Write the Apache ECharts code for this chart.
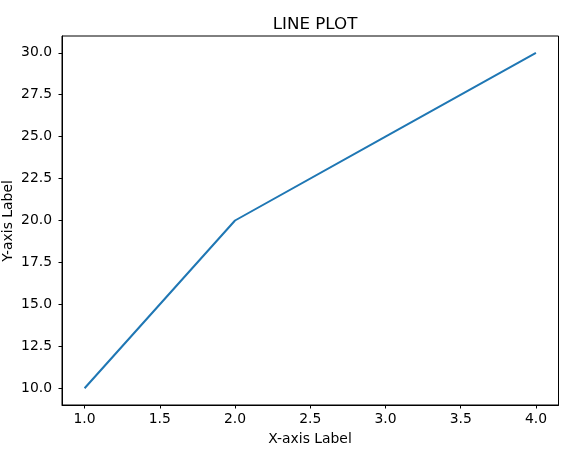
<!DOCTYPE html>
<html><head><meta charset="utf-8">
<script src="https://cdn.jsdelivr.net/npm/echarts@6/dist/echarts.min.js"></script>
<style>html,body{margin:0;padding:0;background:#fff}#c{width:569px;height:453px}</style>
</head><body><div id="c"></div>
<script>
var xValues = [1, 2, 3, 4];
var yValues = [10, 20, 25, 30];
var xTicks = [1.0, 1.5, 2.0, 2.5, 3.0, 3.5, 4.0];
var yTicks = [10.0, 12.5, 15.0, 17.5, 20.0, 22.5, 25.0, 27.5, 30.0];
var titleText = 'LINE PLOT';
var xLabel = 'X-axis Label';
var yLabel = 'Y-axis Label';

var font = 'DejaVu Sans';
var chart = echarts.init(document.getElementById('c'), null, {renderer: 'canvas'});
chart.setOption({
  animation: false,
  backgroundColor: '#fff',
  title: {text: titleText, left: 310, top: 11, textAlign: 'center',
    textStyle: {fontFamily: font, fontSize: 16.7, fontWeight: 'normal', color: '#000'}},
  grid: {left: 62, top: 36, right: 10.5, bottom: 48, show: true, borderColor: '#000', borderWidth: 1, containLabel: false},
  xAxis: {
    type: 'value', min: 0.85, max: 4.15,
    axisLine: {show: true, lineStyle: {color: '#000', width: 1}},
    axisTick: {show: true, inside: false, length: 3.5, lineStyle: {color: '#000'}, customValues: xTicks},
    axisLabel: {customValues: xTicks, margin: 7, color: '#000', fontFamily: font, fontSize: 13.9,
      formatter: function (v) { return v.toFixed(1); }},
    splitLine: {show: false}
  },
  yAxis: {
    type: 'value', min: 9, max: 31,
    axisLine: {show: true, lineStyle: {color: '#000', width: 1}},
    axisTick: {show: true, inside: false, length: 3.5, lineStyle: {color: '#000'}, customValues: yTicks},
    axisLabel: {customValues: yTicks, margin: 10, color: '#000', fontFamily: font, fontSize: 13.9,
      formatter: function (v) { return v.toFixed(1); }},
    splitLine: {show: false}
  },
  graphic: [
    {type: 'text', left: 310 - 0, top: 432, style: {text: xLabel, font: '13.9px "DejaVu Sans"', fill: '#000', textAlign: 'center'}, x: 310, y: 432, left: null, top: null},
    {type: 'text', x: 1, y: 221, rotation: Math.PI / 2, style: {text: yLabel, font: '13.9px "DejaVu Sans"', fill: '#000', textAlign: 'center', textVerticalAlign: 'top'}}
  ],
  series: [{
    type: 'line',
    data: xValues.map(function (x, i) { return [x, yValues[i]]; }),
    showSymbol: false,
    lineStyle: {color: '#1f77b4', width: 2},
    itemStyle: {color: '#1f77b4'}
  }]
});
</script></body></html>
